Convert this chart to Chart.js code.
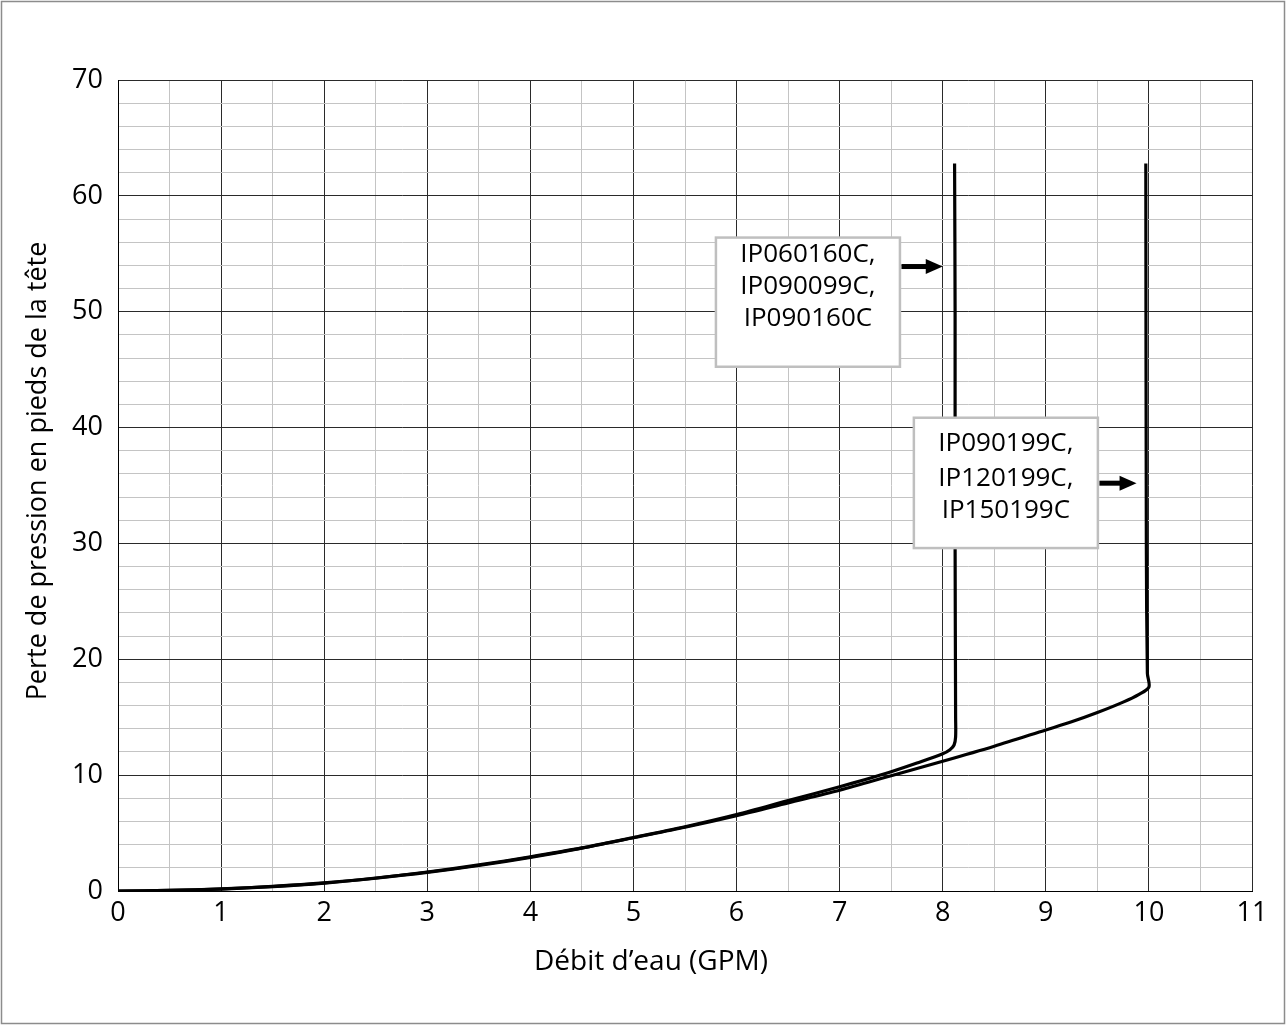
<!DOCTYPE html>
<html><head><meta charset="utf-8">
<script src="https://cdn.jsdelivr.net/npm/chart.js@4.4.1/dist/chart.umd.min.js"></script>
<style>html,body{margin:0;padding:0;background:#fff;}#wrap{width:1286px;height:1026px;position:relative}</style>
</head><body><div id="wrap"><canvas id="c" width="1286" height="1026"></canvas></div>
<script>
// ---- data ----
const xTickLabels = [0,1,2,3,4,5,6,7,8,9,10,11];
const yTickLabels = [0,10,20,30,40,50,60,70];
const seriesANames = ['IP060160C,', 'IP090099C,', 'IP090160C'];
const seriesAx = [0, 0.5, 1, 1.5, 2, 2.5, 3, 3.5, 4, 4.5, 5, 5.5, 6, 6.5, 7, 7.25, 7.5, 7.75, 8, 8.07, 8.11, 8.125, 8.125, 8.12, 8.12, 8.115];
const seriesAy = [0, 0.05, 0.18, 0.4, 0.7, 1.12, 1.64, 2.25, 2.95, 3.72, 4.62, 5.55, 6.6, 7.8, 9.0, 9.63, 10.3, 11.05, 11.85, 12.2, 12.6, 13.3, 15, 30, 50, 62.8];
const seriesBNames = ['IP090199C,', 'IP120199C,', 'IP150199C'];
const seriesBx = [0, 0.5, 1, 1.5, 2, 2.5, 3, 3.5, 4, 4.5, 5, 5.5, 6, 6.5, 7, 7.5, 8, 8.5, 9, 9.25, 9.5, 9.75, 9.9, 10.0, 9.985, 9.975, 9.97];
const seriesBy = [0, 0.05, 0.17, 0.38, 0.68, 1.1, 1.6, 2.2, 2.9, 3.7, 4.6, 5.5, 6.5, 7.6, 8.7, 9.95, 11.2, 12.5, 13.9, 14.6, 15.4, 16.3, 16.95, 17.6, 18.8, 30, 62.8];
const xAxisTitle = 'Débit d’eau (GPM)';
const yAxisTitle = 'Perte de pression en pieds de la tête';

// ---- annotation layout (data units) ----
const notes = [
  {lines: seriesANames, x0: 5.80, x1: 7.585, yTop: 56.4, yBot: 45.25, ax0: 7.6, ax1: 8.0, ay: 53.9, textY: [54.9, 52.2, 49.4]},
  {lines: seriesBNames, x0: 7.72, x1: 9.505, yTop: 40.85, yBot: 29.6, ax0: 9.52, ax1: 9.88, ay: 35.2, textY: [38.6, 35.6, 32.8]}
];

const toPts = (xs, ys) => xs.map((x, i) => ({x: x, y: ys[i]}));

const FAM = "'Open Sans', 'Noto Sans', sans-serif";
Chart.defaults.font.family = FAM;
Chart.defaults.font.size = 27;
Chart.defaults.color = '#000';

const deco = {
  id: 'deco',
  afterDatasetsDraw(chart) {
    const ctx = chart.ctx, xs = chart.scales.x, ys = chart.scales.y;
    ctx.save();
    notes.forEach(n => {
      const l = xs.getPixelForValue(n.x0), r = xs.getPixelForValue(n.x1);
      const t = ys.getPixelForValue(n.yTop), b = ys.getPixelForValue(n.yBot);
      ctx.fillStyle = '#fff';
      ctx.fillRect(l, t, r - l, b - t);
      ctx.strokeStyle = '#bfbfbf';
      ctx.lineWidth = 2.5;
      ctx.strokeRect(l, t, r - l, b - t);
      ctx.fillStyle = '#000';
      ctx.font = "26px " + FAM;
      ctx.textAlign = 'center';
      ctx.textBaseline = 'middle';
      n.lines.forEach((s, i) => ctx.fillText(s, (l + r) / 2, ys.getPixelForValue(n.textY[i])));
      // arrow
      const a0 = xs.getPixelForValue(n.ax0), a1 = xs.getPixelForValue(n.ax1), ay = ys.getPixelForValue(n.ay);
      ctx.fillRect(a0, ay - 2.5, (a1 - a0) - 15, 5);
      ctx.beginPath();
      ctx.moveTo(a1 - 17, ay - 7.5);
      ctx.lineTo(a1, ay);
      ctx.lineTo(a1 - 17, ay + 7.5);
      ctx.closePath();
      ctx.fill();
    });
    ctx.restore();
  },
  afterDraw(chart) {
    const ctx = chart.ctx;
    ctx.save();
    ctx.fillStyle = '#000';
    ctx.font = "28px " + FAM;
    ctx.textAlign = 'center';
    ctx.textBaseline = 'middle';
    ctx.fillText(xAxisTitle, 651, 962);
    ctx.font = "27px " + FAM;
    ctx.translate(38, 471);
    ctx.rotate(-Math.PI / 2);
    ctx.fillText(yAxisTitle, 0, 0);
    ctx.restore();
    ctx.save();
    ctx.strokeStyle = '#8c8c8c';
    ctx.lineWidth = 1.5;
    ctx.strokeRect(1.5, 1.5, 1283, 1022);
    ctx.restore();
  }
};

const lineStyle = {borderColor: '#000', borderWidth: 3.2, pointRadius: 0, showLine: true, fill: false, tension: 0.3};

new Chart(document.getElementById('c'), {
  type: 'scatter',
  data: {
    datasets: [
      Object.assign({label: seriesANames.join(' '), data: toPts(seriesAx, seriesAy)}, lineStyle),
      Object.assign({label: seriesBNames.join(' '), data: toPts(seriesBx, seriesBy)}, lineStyle)
    ]
  },
  options: {
    responsive: false,
    animation: false,
    devicePixelRatio: 1,
    layout: {padding: {top: 80, right: 34, left: 0, bottom: 0}},
    plugins: {legend: {display: false}, tooltip: {enabled: false}},
    scales: {
      x: {
        type: 'linear', min: 0, max: 11,
        afterBuildTicks: s => { const t = []; for (let v = 0; v <= 11; v += 0.5) t.push({value: v}); s.ticks = t; },
        afterFit: s => { s.height = 135; },
        ticks: {autoSkip: false, maxRotation: 0, padding: 6,
          callback: v => xTickLabels.includes(v) ? String(v) : ''},
        grid: {drawTicks: false, color: c => (c.tick && Number.isInteger(c.tick.value)) ? '#2a2a2a' : '#c4c4c4', lineWidth: 1},
        border: {color: '#000', width: 1}
      },
      y: {
        type: 'linear', min: 0, max: 70,
        afterBuildTicks: s => { const t = []; for (let v = 0; v <= 70; v += 2) t.push({value: v}); s.ticks = t; },
        afterFit: s => { s.width = 118; },
        ticks: {autoSkip: false, padding: 15,
          callback: v => yTickLabels.includes(v) ? String(v) : ''},
        grid: {drawTicks: false, color: c => (c.tick && c.tick.value % 10 === 0) ? '#2a2a2a' : '#c4c4c4', lineWidth: 1},
        border: {color: '#000', width: 1}
      }
    }
  },
  plugins: [deco]
});
</script>
</body></html>
